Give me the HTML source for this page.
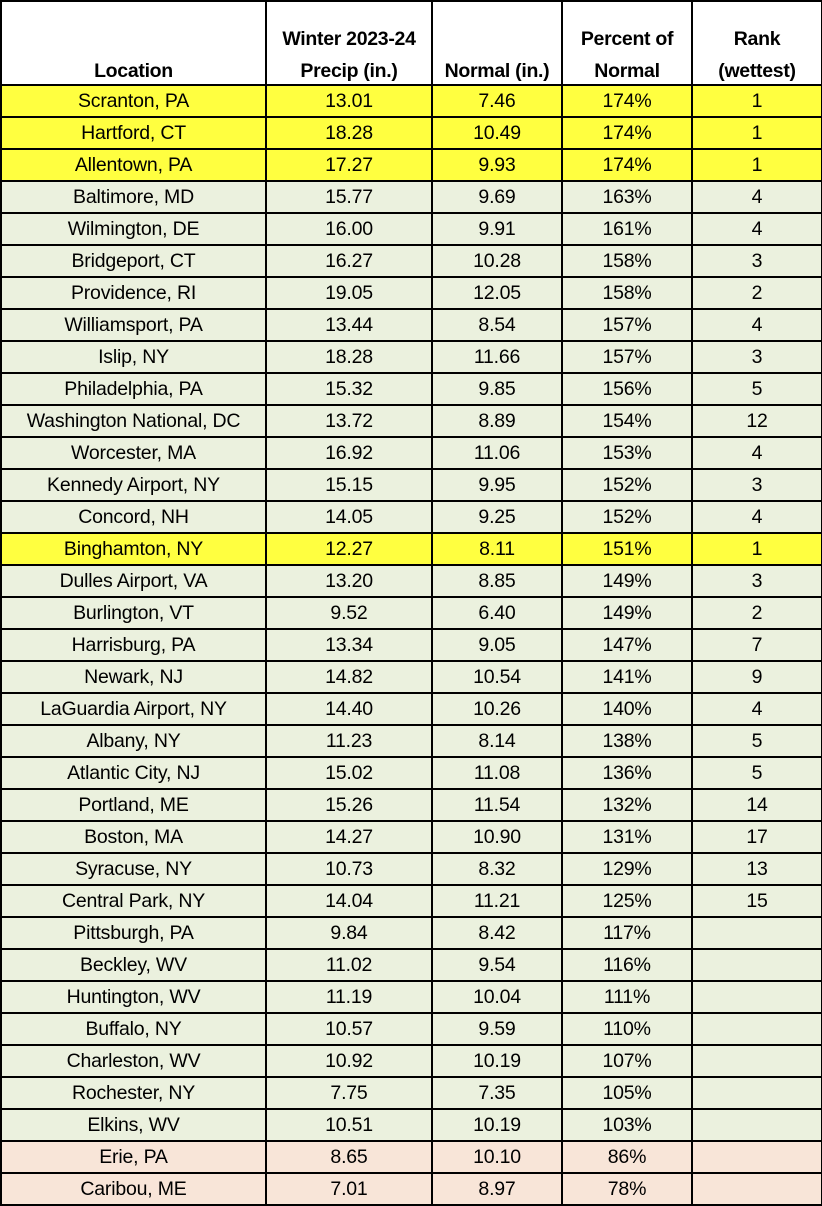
<!DOCTYPE html>
<html><head><meta charset="utf-8"><style>
html,body{margin:0;padding:0;background:#fff;}
body{width:822px;height:1206px;overflow:hidden;}
table{border-collapse:collapse;table-layout:fixed;width:821px;position:absolute;left:0;top:0;font-family:"Liberation Sans",sans-serif;font-size:19.5px;color:#000;}
td,th{border:2px solid #000;text-align:center;padding:0;height:30px;line-height:30px;white-space:nowrap;overflow:hidden;}
th{font-weight:bold;vertical-align:bottom;height:81px;line-height:32px;padding-bottom:1px;letter-spacing:-0.3px;}
th span{position:relative;top:4px;display:inline-block;}
tr.y td{background:#FFFF40;}
tr.g td{background:#EBF1DE;}
tr.p td{background:#F8E5D8;}
td{letter-spacing:-0.2px;}
</style></head><body>
<table>
<colgroup><col style="width:265px"><col style="width:166px"><col style="width:130px"><col style="width:130px"><col style="width:130px"></colgroup>
<tr><th><span>Location</span></th><th><span>Winter 2023-24<br>Precip (in.)</span></th><th><span>Normal (in.)</span></th><th><span>Percent of<br>Normal</span></th><th><span>Rank<br>(wettest)</span></th></tr>
<tr class="y"><td>Scranton, PA</td><td>13.01</td><td>7.46</td><td>174%</td><td>1</td></tr>
<tr class="y"><td>Hartford, CT</td><td>18.28</td><td>10.49</td><td>174%</td><td>1</td></tr>
<tr class="y"><td>Allentown, PA</td><td>17.27</td><td>9.93</td><td>174%</td><td>1</td></tr>
<tr class="g"><td>Baltimore, MD</td><td>15.77</td><td>9.69</td><td>163%</td><td>4</td></tr>
<tr class="g"><td>Wilmington, DE</td><td>16.00</td><td>9.91</td><td>161%</td><td>4</td></tr>
<tr class="g"><td>Bridgeport, CT</td><td>16.27</td><td>10.28</td><td>158%</td><td>3</td></tr>
<tr class="g"><td>Providence, RI</td><td>19.05</td><td>12.05</td><td>158%</td><td>2</td></tr>
<tr class="g"><td>Williamsport, PA</td><td>13.44</td><td>8.54</td><td>157%</td><td>4</td></tr>
<tr class="g"><td>Islip, NY</td><td>18.28</td><td>11.66</td><td>157%</td><td>3</td></tr>
<tr class="g"><td>Philadelphia, PA</td><td>15.32</td><td>9.85</td><td>156%</td><td>5</td></tr>
<tr class="g"><td>Washington National, DC</td><td>13.72</td><td>8.89</td><td>154%</td><td>12</td></tr>
<tr class="g"><td>Worcester, MA</td><td>16.92</td><td>11.06</td><td>153%</td><td>4</td></tr>
<tr class="g"><td>Kennedy Airport, NY</td><td>15.15</td><td>9.95</td><td>152%</td><td>3</td></tr>
<tr class="g"><td>Concord, NH</td><td>14.05</td><td>9.25</td><td>152%</td><td>4</td></tr>
<tr class="y"><td>Binghamton, NY</td><td>12.27</td><td>8.11</td><td>151%</td><td>1</td></tr>
<tr class="g"><td>Dulles Airport, VA</td><td>13.20</td><td>8.85</td><td>149%</td><td>3</td></tr>
<tr class="g"><td>Burlington, VT</td><td>9.52</td><td>6.40</td><td>149%</td><td>2</td></tr>
<tr class="g"><td>Harrisburg, PA</td><td>13.34</td><td>9.05</td><td>147%</td><td>7</td></tr>
<tr class="g"><td>Newark, NJ</td><td>14.82</td><td>10.54</td><td>141%</td><td>9</td></tr>
<tr class="g"><td>LaGuardia Airport, NY</td><td>14.40</td><td>10.26</td><td>140%</td><td>4</td></tr>
<tr class="g"><td>Albany, NY</td><td>11.23</td><td>8.14</td><td>138%</td><td>5</td></tr>
<tr class="g"><td>Atlantic City, NJ</td><td>15.02</td><td>11.08</td><td>136%</td><td>5</td></tr>
<tr class="g"><td>Portland, ME</td><td>15.26</td><td>11.54</td><td>132%</td><td>14</td></tr>
<tr class="g"><td>Boston, MA</td><td>14.27</td><td>10.90</td><td>131%</td><td>17</td></tr>
<tr class="g"><td>Syracuse, NY</td><td>10.73</td><td>8.32</td><td>129%</td><td>13</td></tr>
<tr class="g"><td>Central Park, NY</td><td>14.04</td><td>11.21</td><td>125%</td><td>15</td></tr>
<tr class="g"><td>Pittsburgh, PA</td><td>9.84</td><td>8.42</td><td>117%</td><td></td></tr>
<tr class="g"><td>Beckley, WV</td><td>11.02</td><td>9.54</td><td>116%</td><td></td></tr>
<tr class="g"><td>Huntington, WV</td><td>11.19</td><td>10.04</td><td>111%</td><td></td></tr>
<tr class="g"><td>Buffalo, NY</td><td>10.57</td><td>9.59</td><td>110%</td><td></td></tr>
<tr class="g"><td>Charleston, WV</td><td>10.92</td><td>10.19</td><td>107%</td><td></td></tr>
<tr class="g"><td>Rochester, NY</td><td>7.75</td><td>7.35</td><td>105%</td><td></td></tr>
<tr class="g"><td>Elkins, WV</td><td>10.51</td><td>10.19</td><td>103%</td><td></td></tr>
<tr class="p"><td>Erie, PA</td><td>8.65</td><td>10.10</td><td>86%</td><td></td></tr>
<tr class="p"><td>Caribou, ME</td><td>7.01</td><td>8.97</td><td>78%</td><td></td></tr>
</table>
</body></html>
